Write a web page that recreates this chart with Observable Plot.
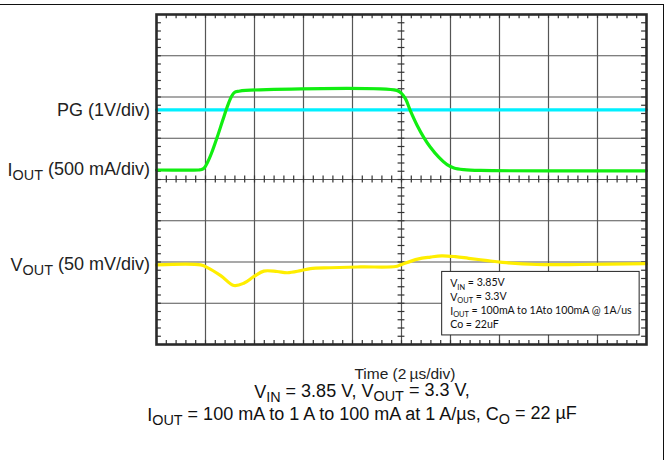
<!DOCTYPE html>
<html><head><meta charset="utf-8">
<script src="https://cdn.jsdelivr.net/npm/d3@7"></script>
<script src="https://cdn.jsdelivr.net/npm/@observablehq/plot@0.6"></script>
<style>
body{margin:0;background:#fff;}
#wrap{position:relative;width:669px;height:460px;overflow:hidden;background:#fff;}
#border{position:absolute;left:-2px;top:4px;width:665px;height:470px;border-top:1.5px solid #111;border-right:1.5px solid #111;}
#wrap svg{position:absolute;left:0;top:0;}
</style></head><body><div id="wrap"><div id="border"></div></div>
<script>
// time in divisions (2 µs/div), levels in screen divisions (0 = bottom, 8 = top)
const pgTime = [0, 10];
const pgLevel = [5.69, 5.69];

const iOutTime = [0, 0.86, 0.92, 0.98, 1.04, 1.12, 1.24, 1.35, 1.44, 1.53, 1.59, 1.68, 1.82, 4.90, 4.99, 5.08, 5.18, 5.32, 5.46, 5.59, 5.76, 5.93, 6.07, 6.27, 6.61, 10];
const iOutLevel = [4.23, 4.23, 4.24, 4.29, 4.41, 4.63, 5.03, 5.43, 5.75, 6.01, 6.11, 6.14, 6.16, 6.16, 6.10, 5.96, 5.67, 5.31, 5.01, 4.78, 4.54, 4.36, 4.28, 4.24, 4.22, 4.21];

const vOutTime = [0, 0.90, 1.03, 1.31, 1.58, 1.79, 1.99, 2.19, 2.46, 2.67, 2.94, 3.14, 3.55, 4.16, 4.88, 4.98, 5.33, 5.59, 5.82, 6.10, 6.37, 6.71, 7.06, 7.76, 8.65, 10];
const vOutLevel = [1.93, 1.93, 1.87, 1.67, 1.43, 1.49, 1.65, 1.78, 1.77, 1.74, 1.79, 1.84, 1.86, 1.88, 1.89, 1.93, 2.07, 2.12, 2.15, 2.13, 2.09, 2.04, 1.99, 1.94, 1.94, 1.96];

const gridX = [1, 2, 3, 4, 5, 6, 7, 8, 9];
const gridY = [1, 2, 3, 4, 5, 6, 7];
const minorX = d3.range(1, 50).map(i => i / 5);
const minorY = d3.range(1, 40).map(i => i / 5);

const channelLabels = [
  {level: 5.69, parts: [["PG (1V/div)", ""]]},
  {level: 4.23, parts: [["I", ""], ["OUT", "sub"], [" (500 mA/div)", ""]]},
  {level: 1.93, parts: [["V", ""], ["OUT", "sub"], [" (50 mV/div)", ""]]}
];
const legendLines = [
  [["V", ""], ["IN", "sub"], [" = 3.85V", ""]],
  [["V", ""], ["OUT", "sub"], [" = 3.3V", ""]],
  [["I", ""], ["OUT", "sub"], [" = 100mA to 1Ato 100mA @ 1A/us", ""]],
  [["Co = 22uF", ""]]
];
const xTitle = "Time (2\u2009\u00b5s/div)";
const captionLines = [
  [["V", ""], ["IN", "sub"], [" = 3.85 V, V", ""], ["OUT", "sub"], [" = 3.3 V,", ""]],
  [["I", ""], ["OUT", "sub"], [" = 100 mA to 1 A to 100 mA at 1 A/\u00b5s, C", ""], ["O", "sub"], [" = 22 \u00b5F", ""]]
];

const toPts = (t, v) => t.map((d, i) => ({t: d, v: v[i]}));
const tickColor = "#333";

const plot = Plot.plot({
  width: 669, height: 460,
  marginLeft: 156, marginRight: 23, marginTop: 14, marginBottom: 116,
  x: {domain: [0, 10], axis: null},
  y: {domain: [0, 8], axis: null},
  style: {background: "transparent", overflow: "visible"},
  marks: [
    Plot.ruleX(gridX, {stroke: "#555", strokeWidth: 1.2}),
    Plot.ruleY(gridY, {stroke: "#555", strokeWidth: 1.2}),
    Plot.ruleX(minorX, {y1: 0, y2: 0.1, stroke: tickColor, strokeWidth: 1.2}),
    Plot.ruleX(minorX, {y1: 7.9, y2: 8, stroke: tickColor, strokeWidth: 1.2}),
    Plot.ruleX(minorX, {y1: 3.915, y2: 4.085, stroke: tickColor, strokeWidth: 1.2}),
    Plot.ruleY(minorY, {x1: 0, x2: 0.1, stroke: tickColor, strokeWidth: 1.2}),
    Plot.ruleY(minorY, {x1: 9.9, x2: 10, stroke: tickColor, strokeWidth: 1.2}),
    Plot.ruleY(minorY, {x1: 4.93, x2: 5.07, stroke: tickColor, strokeWidth: 1.2}),
    Plot.line(toPts(pgTime, pgLevel), {x: "t", y: "v", stroke: "#00f0ff", strokeWidth: 3.2}),
    Plot.line(toPts(vOutTime, vOutLevel), {x: "t", y: "v", stroke: "#ffee00", strokeWidth: 3.2, curve: "catmull-rom"}),
    Plot.line(toPts(iOutTime, iOutLevel), {x: "t", y: "v", stroke: "#11ee11", strokeWidth: 3.2, curve: "catmull-rom"}),
    Plot.frame({stroke: "#2a2a2a", strokeWidth: 2.6})
  ]
});
document.getElementById("wrap").appendChild(plot);

const svg = d3.select(plot);
const sx = plot.scale("x"), sy = plot.scale("y");

function rich(sel, parts, subScale) {
  parts.forEach(([txt, kind], i) => {
    const prev = i > 0 ? parts[i - 1][1] : "";
    const ts = sel.append("tspan").text(txt);
    if (kind === "sub") ts.attr("font-size", subScale + "em").attr("dy", "0.3em");
    else if (prev === "sub") ts.attr("dy", "-0.3em");
  });
}

// channel labels
channelLabels.forEach(l => {
  const t = svg.append("text")
    .attr("x", sx.apply(0) - 6)
    .attr("y", sy.apply(l.level))
    .attr("dy", "0.36em")
    .attr("text-anchor", "end")
    .attr("font-family", "Liberation Sans, Arial, sans-serif")
    .attr("font-size", 18)
    .attr("fill", "#222");
  rich(t, l.parts, 0.8);
});

// legend box (annotation)
const bx0 = sx.apply(5.83), bx1 = sx.apply(9.86), by0 = sy.apply(1.76), by1 = sy.apply(0.22);
svg.append("rect").attr("x", bx0).attr("y", by0).attr("width", bx1 - bx0).attr("height", by1 - by0)
  .attr("fill", "#fff").attr("stroke", "#222").attr("stroke-width", 1);
legendLines.forEach((parts, i) => {
  const t = svg.append("text")
    .attr("x", bx0 + 8.5)
    .attr("y", by0 + 16 + i * 13.6)
    .attr("text-anchor", "start")
    .attr("font-family", "Lato, Open Sans, sans-serif")
    .attr("font-size", 10.6)
    .attr("fill", "#111");
  rich(t, parts, 0.7);
});

// x title and caption
svg.append("text").attr("x", sx.apply(5.08)).attr("y", 379)
  .attr("text-anchor", "middle").attr("font-family", "Liberation Sans, Arial, sans-serif")
  .attr("font-size", 15.5).attr("fill", "#222").text(xTitle);
captionLines.forEach((parts, i) => {
  const t = svg.append("text")
    .attr("x", 362).attr("y", 398 + i * 23)
    .attr("text-anchor", "middle")
    .attr("font-family", "Liberation Sans, Arial, sans-serif")
    .attr("font-size", 18).attr("fill", "#111");
  rich(t, parts, 0.8);
});
</script></body></html>
